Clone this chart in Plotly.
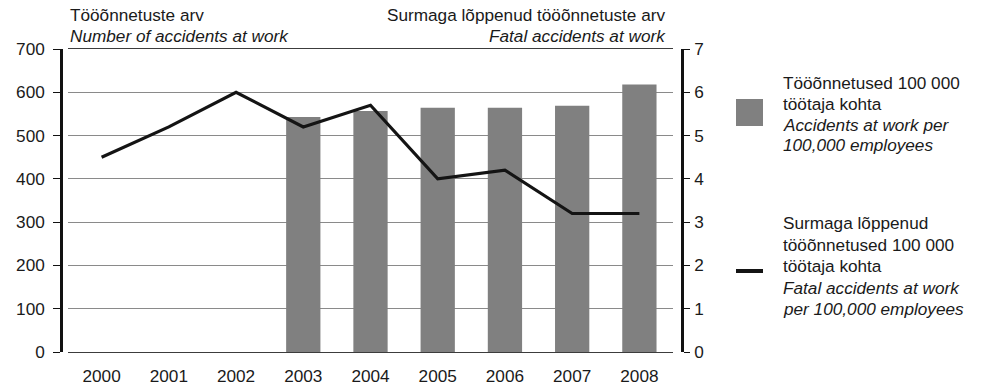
import plotly.graph_objects as go

# Data
years = ["2000", "2001", "2002", "2003", "2004", "2005", "2006", "2007", "2008"]
accidents_per_100k = [None, None, None, 543, 557, 564, 564, 569, 618]
fatal_per_100k = [4.5, 5.2, 6.0, 5.2, 5.7, 4.0, 4.2, 3.2, 3.2]

left_ticks = [0, 100, 200, 300, 400, 500, 600, 700]
right_ticks = [0, 1, 2, 3, 4, 5, 6, 7]

W, H = 984, 387
M_TOP, M_BOT = 49, 35
PLOT_H = H - M_TOP - M_BOT

FONT = "Liberation Sans, Arial, sans-serif"
FS = 17.2
TXT = "#1a1a1a"


def px_x(x):
    return x / W


def px_y(y):
    return (H - M_BOT - y) / PLOT_H


fig = go.Figure()

fig.add_trace(go.Bar(
    x=years, y=accidents_per_100k, marker=dict(color="#808080", line=dict(width=0)),
    yaxis="y", showlegend=False, hoverinfo="x+y",
))
fig.add_trace(go.Scatter(
    x=years, y=fatal_per_100k, mode="lines", line=dict(color="#141414", width=3.2),
    yaxis="y2", showlegend=False,
))

# Legend drawn by hand: swatches + wrapped labels
shapes = [
    dict(type="rect", xref="paper", yref="paper",
         x0=px_x(736), x1=px_x(763), y0=px_y(126), y1=px_y(99),
         fillcolor="#808080", line=dict(width=0)),
    dict(type="line", xref="paper", yref="paper",
         x0=px_x(736), x1=px_x(763), y0=px_y(271), y1=px_y(271),
         line=dict(color="#141414", width=4)),
]


def label(text, x, y, xanchor="left"):
    return dict(text=text, x=px_x(x), y=px_y(y), xanchor=xanchor, yanchor="middle",
                align="left", xref="paper", yref="paper", showarrow=False,
                font=dict(family=FONT, size=FS, color=TXT))


annotations = [
    label("Tööõnnetuste arv", 68, 15),
    label("<i>Number of accidents at work</i>", 68, 36),
    label("Surmaga lõppenud tööõnnetuste arv", 667, 15, "right"),
    label("<i>Fatal accidents at work</i>", 668, 36, "right"),
]

legend_bar_lines = ["Tööõnnetused 100 000", "töötaja kohta",
                    "<i>Accidents at work per</i>", "<i>100,000 employees</i>"]
legend_line_lines = ["Surmaga lõppenud", "tööõnnetused 100 000", "töötaja kohta",
                     "<i>Fatal accidents at work</i>", "<i>per 100,000 employees</i>"]
for i, t in enumerate(legend_bar_lines):
    annotations.append(label(t, 781, 83 + 20.8 * i))
for i, t in enumerate(legend_line_lines):
    annotations.append(label(t, 781, 223 + 21.5 * i))

fig.update_layout(
    width=W, height=H,
    margin=dict(l=0, r=0, t=M_TOP, b=M_BOT),
    paper_bgcolor="white", plot_bgcolor="white",
    bargap=0.49,
    font=dict(family=FONT, size=FS, color=TXT),
    shapes=shapes, annotations=annotations,
    xaxis=dict(
        domain=[px_x(68), px_x(673)], type="category",
        categoryorder="array", categoryarray=years,
        showline=True, linecolor="#3c3c3c", linewidth=1, mirror=True,
        ticks="outside", ticklen=8, tickcolor="rgba(0,0,0,0)",
        showgrid=False, zeroline=False, automargin=False,
    ),
    yaxis=dict(
        range=[0, 700], tickvals=left_ticks, anchor="free", position=px_x(61),
        showline=True, linecolor="#111111", linewidth=2.5,
        ticks="outside", ticklen=7, tickwidth=1, tickcolor="#111111",
        ticklabelstandoff=5, automargin=False,
        showgrid=True, gridcolor="#8a8a8a", gridwidth=1, zeroline=False,
    ),
    yaxis2=dict(
        range=[0, 7], tickvals=right_ticks, overlaying="y", side="right",
        anchor="free", position=px_x(682),
        showline=True, linecolor="#111111", linewidth=2.5,
        ticks="outside", ticklen=6, tickwidth=1, tickcolor="#111111",
        ticklabelstandoff=1, automargin=False,
        showgrid=False, zeroline=False,
    ),
)

fig.write_html("out.html")
